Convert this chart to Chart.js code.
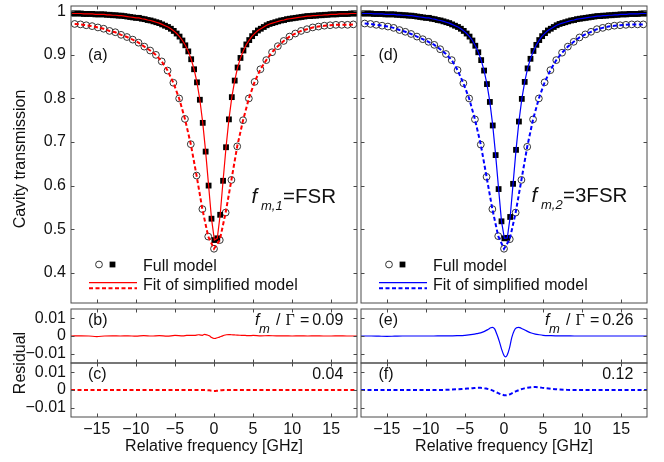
<!DOCTYPE html>
<html><head><meta charset="utf-8">
<script src="https://cdn.jsdelivr.net/npm/chart.js@4.4.1/dist/chart.umd.min.js"></script>
<style>
html,body{margin:0;padding:0;background:#fff;}
#wrap{position:relative;width:664px;height:462px;overflow:hidden;background:#fff;}
#wrap canvas{position:absolute;left:0;top:0;}
</style></head>
<body><div id="wrap">
<canvas id="pa" width="664" height="462"></canvas>
<canvas id="pd" width="664" height="462"></canvas>
<canvas id="pb" width="664" height="462"></canvas>
<canvas id="pc" width="664" height="462"></canvas>
<canvas id="pe" width="664" height="462"></canvas>
<canvas id="pf" width="664" height="462"></canvas>
</div>
<script>
// ---------------- data ----------------
const xTicks = [-15,-10,-5,0,5,10,15];
const xTickLabels = ['\u221215','\u221210','\u22125','0','5','10','15'];
const transTicks = [0.4,0.5,0.6,0.7,0.8,0.9,1];
const transTickLabels = ['0.4','0.5','0.6','0.7','0.8','0.9','1'];
const resTicks = [-0.01,0,0.01];
const resTickLabels = ['\u22120.01','0','0.01'];

// Full model, wide resonance (open circles)
const circX = [-17.83,-17.09,-16.35,-15.6,-14.86,-14.12,-13.37,-12.63,-11.89,-11.14,-10.4,-9.66,-8.92,-8.17,-7.43,-6.69,-5.94,-5.2,-4.46,-3.72,-2.97,-2.23,-1.49,-0.74,0,0.74,1.49,2.23,2.97,3.72,4.46,5.2,5.94,6.69,7.43,8.17,8.92,9.66,10.4,11.14,11.89,12.63,13.37,14.12,14.86,15.6,16.35,17.09,17.83];
const circA = [0.971,0.970,0.968,0.966,0.963,0.960,0.955,0.952,0.946,0.941,0.935,0.928,0.919,0.910,0.900,0.885,0.864,0.836,0.800,0.753,0.695,0.623,0.546,0.483,
  0.455,
  0.475,0.538,0.613,0.690,0.750,0.800,0.838,0.867,0.888,0.906,0.920,0.932,0.942,0.949,0.955,0.959,0.963,0.965,0.967,0.968,0.969,0.969,0.969,0.970];
const circD = [0.972,0.971,0.969,0.967,0.965,0.962,0.957,0.953,0.948,0.942,0.936,0.930,0.923,0.913,0.902,0.888,0.865,0.835,0.800,0.752,0.694,0.620,0.546,0.484,
  0.455,
  0.477,0.538,0.613,0.689,0.752,0.800,0.837,0.865,0.888,0.905,0.919,0.930,0.940,0.947,0.953,0.959,0.962,0.965,0.967,0.968,0.969,0.970,0.970,0.970];

// Full model, narrow resonance (filled squares)
const sqX = [-18.16,-17.79,-17.42,-17.04,-16.67,-16.3,-15.93,-15.56,-15.19,-14.81,-14.44,-14.07,-13.7,-13.33,-12.96,-12.58,-12.21,-11.84,-11.47,-11.1,-10.73,-10.35,-9.98,-9.61,-9.24,-8.87,-8.49,-8.12,-7.75,
  -7.38,-7.01,-6.64,-6.27,-5.89,-5.52,-5.15,-4.78,-4.41,-4.04,-3.67,-3.29,-2.92,-2.55,-2.18,-1.81,-1.44,-1.07,-0.69,-0.32,
  0.05,0.42,0.79,1.16,1.54,1.91,2.28,2.65,3.02,3.39,3.77,4.14,4.51,4.88,5.25,5.62,5.99,6.37,6.74,7.11,7.48,
  7.85,8.22,8.59,8.97,9.34,9.71,10.08,10.45,10.83,11.2,11.57,11.94,12.31,12.68,13.06,13.43,13.8,14.17,14.54,14.91,15.29,15.66,16.03,16.4,16.77,17.14,17.52,17.89,18.26];
const sqA = [0.995,0.995,0.995,0.995,0.994,0.994,0.994,0.994,0.993,0.993,0.993,0.993,0.992,0.992,0.991,0.991,0.990,0.990,0.989,0.988,0.987,0.986,0.985,0.985,0.983,0.982,0.980,0.979,0.977,
  0.975,0.973,0.970,0.967,0.964,0.960,0.955,0.949,0.942,0.933,0.922,0.908,0.890,0.867,0.837,0.797,0.744,0.678,0.600,0.524,
  0.475,0.479,0.533,0.611,0.688,0.752,0.803,0.841,0.871,0.893,0.910,0.924,0.934,0.943,0.950,0.956,0.960,0.964,0.968,0.971,0.973,
  0.975,0.977,0.979,0.980,0.982,0.983,0.984,0.985,0.986,0.987,0.988,0.989,0.989,0.990,0.990,0.991,0.991,0.992,0.992,0.993,0.993,0.993,0.994,0.994,0.994,0.994,0.995,0.995,0.995];
const sqD = [0.995,0.995,0.995,0.995,0.994,0.994,0.994,0.994,0.993,0.993,0.993,0.993,0.992,0.992,0.991,0.991,0.990,0.990,0.989,0.988,0.987,0.986,0.985,0.985,0.983,0.982,0.980,0.979,0.977,
  0.975,0.973,0.970,0.967,0.964,0.960,0.955,0.949,0.942,0.933,0.921,0.906,0.888,0.864,0.833,0.792,0.738,0.670,0.592,0.518,
  0.479,0.480,0.528,0.604,0.682,0.747,0.799,0.838,0.869,0.891,0.909,0.923,0.934,0.943,0.950,0.956,0.960,0.964,0.968,0.971,0.973,
  0.975,0.977,0.979,0.980,0.982,0.983,0.984,0.985,0.986,0.987,0.988,0.989,0.989,0.990,0.990,0.991,0.991,0.992,0.992,0.993,0.993,0.993,0.994,0.994,0.994,0.994,0.995,0.995,0.995];

// Residuals
const resX = [-18.3,-17,-16,-15,-14,-13,-12,-11,-10,-9,-8,-7,-6,-5,-4,
  -3.5,-3,-2.5,-2,-1.7,-1.5,-1.2,-0.9,-0.6,-0.3,
  0,0.2,0.4,0.7,1,1.3,1.6,1.9,2.2,2.6,3,3.5,4,4.5,5,
  6,7,8,9,10,11,12,13,14,15,16,17,18.3];
const resB = [0,0.0001,0,-0.0003,0,0.0001,0,0.0001,-0.0001,0.0002,0,0.0002,-0.0001,0.0003,0.0001,
  0.0003,0.0004,0.0003,0.0007,0.0005,0.0004,0.0009,0.0006,0.0001,-0.0009,
  -0.0014,-0.0013,-0.0010,-0.0006,-0.0001,0.0004,0.0007,0.0008,0.0007,0.0006,0.0005,0.0004,0.0003,0.0002,0.0003,
  0.0001,0.0002,0.0001,0.0001,0,0.0001,0,0.0001,0,0,0.0001,0,0];
const resC = [0,0,0,0,0,0,0,0,0,0,0,0,0,0,0,
  0,0,0,0,0,0,0,-0.0001,-0.0002,-0.0004,
  -0.0005,-0.0005,-0.0004,-0.0003,-0.0001,0,0,0,0,0,0,0,0,0,0,
  0,0,0,0,0,0,0,0,0,0,0,0,0];
const resE = [0,0,-0.0001,-0.0002,-0.0001,0,0,0,0,0,0.0001,0.0001,0.0002,0.0004,0.0009,
  0.0013,0.0018,0.0026,0.0038,0.0046,0.0049,0.0040,0.0008,-0.0030,-0.0075,
  -0.0110,-0.0118,-0.0108,-0.0068,-0.0008,0.0030,0.0046,0.0049,0.0044,0.0035,0.0026,0.0017,0.0011,0.0007,0.0004,
  0.0002,0.0001,0.0001,0,0,0,0,0,0,0,0,0,0];
const resF = [0,0,0,0,0,0,0,0,0,0,0,0.0002,0.0004,0.0007,0.0010,
  0.0012,0.0012,0.0010,0.0005,0.0001,-0.0002,-0.0008,-0.0014,-0.0020,-0.0025,
  -0.0029,-0.0030,-0.0029,-0.0025,-0.0019,-0.0012,-0.0006,-0.0001,0.0004,0.0009,0.0013,0.0016,0.0017,0.0015,0.0012,
  0.0007,0.0003,0.0001,0,0,0,0,0,0,0,0,0,0];

// ---------------- layout / style ----------------
const W = 664, H = 462;
const SANS = '"Liberation Sans", Arial, Helvetica, sans-serif';
const SERIF = '"Liberation Serif", "Times New Roman", serif';
Chart.defaults.font.family = SANS;
Chart.defaults.font.size = 16;
Chart.defaults.color = '#111';

const RED = '#ff0000', BLUE = '#0000ff';
const DASH = [4, 2.5];

function pts(xs, ys) { return xs.map((x, i) => ({x: x, y: ys[i]})); }

const decoCfg = {};

function txt(ctx, it) {
  ctx.save();
  ctx.font = it.f || ('16px ' + SANS);
  ctx.fillStyle = it.c || '#111';
  ctx.textAlign = it.a || 'left';
  ctx.textBaseline = 'alphabetic';
  if (it.rot) { ctx.translate(it.x, it.y); ctx.rotate(-Math.PI / 2); ctx.fillText(it.t, 0, 0); }
  else ctx.fillText(it.t, it.x, it.y);
  ctx.restore();
}

const deco = {
  id: 'deco',
  afterDraw(chart) {
    const cfg = decoCfg[chart.canvas.id];
    const ctx = chart.ctx;
    const a = chart.chartArea;
    const xs = chart.scales.x, ys = chart.scales.y;
    ctx.save();
    ctx.strokeStyle = '#4a4a4a';
    ctx.lineWidth = 1;
    ctx.strokeRect(a.left, a.top, a.right - a.left, a.bottom - a.top);
    const tl = 3.5;
    ctx.beginPath();
    xTicks.forEach(v => {
      const p = Math.round(xs.getPixelForValue(v)) + 0.5;
      ctx.moveTo(p, a.top); ctx.lineTo(p, a.top + tl);
      ctx.moveTo(p, a.bottom); ctx.lineTo(p, a.bottom - tl);
    });
    cfg.yTicks.forEach(v => {
      const p = Math.round(ys.getPixelForValue(v)) + 0.5;
      ctx.moveTo(a.left, p); ctx.lineTo(a.left + tl, p);
      ctx.moveTo(a.right, p); ctx.lineTo(a.right - tl, p);
    });
    ctx.stroke();
    if (cfg.legend) {
      const L = cfg.legend;
      ctx.beginPath();
      ctx.arc(L.cx, L.my, 3.4, 0, Math.PI * 2);
      ctx.strokeStyle = '#333'; ctx.lineWidth = 1; ctx.stroke();
      ctx.fillStyle = '#000';
      ctx.fillRect(L.sx - 2.9, L.my - 2.9, 5.8, 5.8);
      ctx.strokeStyle = L.color;
      ctx.lineWidth = 1.2;
      ctx.beginPath(); ctx.moveTo(L.x0, L.y1); ctx.lineTo(L.x1, L.y1); ctx.stroke();
      ctx.lineWidth = 2; ctx.setLineDash(DASH);
      ctx.beginPath(); ctx.moveTo(L.x0, L.y2); ctx.lineTo(L.x1, L.y2); ctx.stroke();
      ctx.setLineDash([]);
    }
    ctx.restore();
    (cfg.texts || []).forEach(it => txt(ctx, it));
  }
};

function makePanel(id, g, o) {
  const YW = 60, XH = 45;
  decoCfg[id] = {yTicks: o.yTicks, texts: o.texts, legend: o.legend};
  return new Chart(document.getElementById(id), {
    type: 'scatter',
    data: {datasets: o.datasets},
    options: {
      responsive: false, maintainAspectRatio: false, animation: false, events: [],
      layout: {autoPadding: false, padding: {
        left: g.L - (o.yShow ? YW : 0), top: g.T,
        right: W - g.R, bottom: H - g.B - (o.xShow ? XH : 0)}},
      plugins: {legend: {display: false}, tooltip: {enabled: false}, title: {display: false}},
      scales: {
        x: {type: 'linear', min: -18.3, max: 18.3, display: o.xShow,
          grid: {display: false, drawTicks: false}, border: {display: false},
          afterBuildTicks: s => { s.ticks = xTicks.map(v => ({value: v})); },
          afterFit: s => { if (o.xShow) s.height = XH; s.paddingLeft = 0; s.paddingRight = 0; },
          ticks: {padding: 3, autoSkip: false, maxRotation: 0, minRotation: 0, color: '#111',
            callback: (v, i) => xTickLabels[i]}},
        y: {type: 'linear', min: o.yMin, max: o.yMax, display: o.yShow,
          grid: {display: false, drawTicks: false}, border: {display: false},
          afterBuildTicks: s => { s.ticks = o.yTicks.map(v => ({value: v})); },
          afterFit: s => { if (o.yShow) s.width = YW; s.paddingTop = 0; s.paddingBottom = 0; },
          ticks: {padding: 5, autoSkip: false, color: '#111', callback: (v, i) => o.yLabels[i]}}
      }
    },
    plugins: [deco]
  });
}

function mainSets(color, sqY, cY) {
  return [
    {data: pts(sqX, sqY), showLine: true, borderColor: color, borderWidth: 1.2, pointRadius: 0, order: 0, clip: 0},
    {data: pts(circX, cY), showLine: true, borderColor: color, borderWidth: 2, borderDash: DASH, pointRadius: 0, order: 1, clip: 0},
    {data: pts(sqX, sqY), showLine: false, pointStyle: 'rect', pointRadius: 4.1, backgroundColor: '#000', borderColor: '#000', borderWidth: 0, order: 2, clip: 0},
    {data: pts(circX, cY), showLine: false, pointStyle: 'circle', pointRadius: 3.4, backgroundColor: 'rgba(0,0,0,0)', borderColor: '#333', borderWidth: 1, order: 3, clip: 0}
  ];
}
function resSet(color, ys, dashed) {
  return [{data: pts(resX, ys), showLine: true, borderColor: color, borderWidth: dashed ? 2 : 1.2,
    borderDash: dashed ? DASH : [], pointRadius: 0, cubicInterpolationMode: 'monotone', clip: 0}];
}

const F16 = '16px ' + SANS, I16 = 'italic 16px ' + SANS, I13 = 'italic 13px ' + SANS;
const F20 = '20.5px ' + SANS, I20 = 'italic 20.5px ' + SANS;
const G16 = '16px ' + SERIF;

const mainY = {yMin: 0.3305, yMax: 1.0122, yTicks: transTicks, yLabels: transTickLabels};
const resY = {yMin: -0.0152, yMax: 0.0152, yTicks: resTicks, yLabels: resTickLabels};

makePanel('pa', {L: 71, R: 357, T: 6, B: 303}, Object.assign({}, mainY, {
  yShow: true, xShow: false, datasets: mainSets(RED, sqA, circA),
  legend: {cx: 99, sx: 112.5, my: 264.5, x0: 89, x1: 137, y1: 282.7, y2: 288.3, color: RED},
  texts: [
    {t: '(a)', x: 88, y: 59.5, f: F16},
    {t: 'f', x: 251.5, y: 203, f: I20},
    {t: 'm,1', x: 261, y: 209.5, f: I13},
    {t: '=FSR', x: 283, y: 203, f: F20},
    {t: 'Full model', x: 143, y: 270.7, f: F16},
    {t: 'Fit of simplified model', x: 143, y: 289.5, f: F16},
    {t: 'Cavity transmission', x: 25, y: 159, f: F16, a: 'center', rot: true}
  ]}));

makePanel('pd', {L: 361, R: 647, T: 6, B: 303}, Object.assign({}, mainY, {
  yShow: false, xShow: false, datasets: mainSets(BLUE, sqD, circD),
  legend: {cx: 389, sx: 402.5, my: 264.5, x0: 379, x1: 427, y1: 282.7, y2: 288.3, color: BLUE},
  texts: [
    {t: '(d)', x: 378.5, y: 60, f: F16},
    {t: 'f', x: 531.5, y: 202, f: I20},
    {t: 'm,2', x: 541, y: 208.5, f: I13},
    {t: '=3FSR', x: 563, y: 202, f: F20},
    {t: 'Full model', x: 433, y: 270.7, f: F16},
    {t: 'Fit of simplified model', x: 433, y: 289.5, f: F16}
  ]}));

makePanel('pb', {L: 71, R: 357, T: 309, B: 363}, Object.assign({}, resY, {
  yShow: true, xShow: false, datasets: resSet(RED, resB, false),
  texts: [
    {t: '(b)', x: 88, y: 325, f: F16},
    {t: 'f', x: 255, y: 325, f: I16},
    {t: 'm', x: 259, y: 332.5, f: I13},
    {t: '/', x: 276, y: 325, f: F16},
    {t: '\u0393', x: 285.5, y: 325, f: G16},
    {t: '=', x: 300, y: 325, f: F16},
    {t: '0.09', x: 343.3, y: 325, f: F16, a: 'right'},
    {t: 'Residual', x: 25, y: 363, f: F16, a: 'center', rot: true}
  ]}));

makePanel('pc', {L: 71, R: 357, T: 363, B: 417}, Object.assign({}, resY, {
  yShow: true, xShow: true, datasets: resSet(RED, resC, true),
  texts: [
    {t: '(c)', x: 88, y: 379, f: F16},
    {t: '0.04', x: 343.3, y: 379, f: F16, a: 'right'},
    {t: 'Relative frequency [GHz]', x: 214, y: 450.5, f: F16, a: 'center'}
  ]}));

makePanel('pe', {L: 361, R: 647, T: 309, B: 363}, Object.assign({}, resY, {
  yShow: false, xShow: false, datasets: resSet(BLUE, resE, false),
  texts: [
    {t: '(e)', x: 378.5, y: 325, f: F16},
    {t: 'f', x: 545, y: 325, f: I16},
    {t: 'm', x: 549, y: 332.5, f: I13},
    {t: '/', x: 566, y: 325, f: F16},
    {t: '\u0393', x: 575.5, y: 325, f: G16},
    {t: '=', x: 590, y: 325, f: F16},
    {t: '0.26', x: 633.3, y: 325, f: F16, a: 'right'}
  ]}));

makePanel('pf', {L: 361, R: 647, T: 363, B: 417}, Object.assign({}, resY, {
  yShow: false, xShow: true, datasets: resSet(BLUE, resF, true),
  texts: [
    {t: '(f)', x: 378.5, y: 379, f: F16},
    {t: '0.12', x: 633.3, y: 379, f: F16, a: 'right'},
    {t: 'Relative frequency [GHz]', x: 504, y: 450.5, f: F16, a: 'center'}
  ]}));
</script>
</body></html>
